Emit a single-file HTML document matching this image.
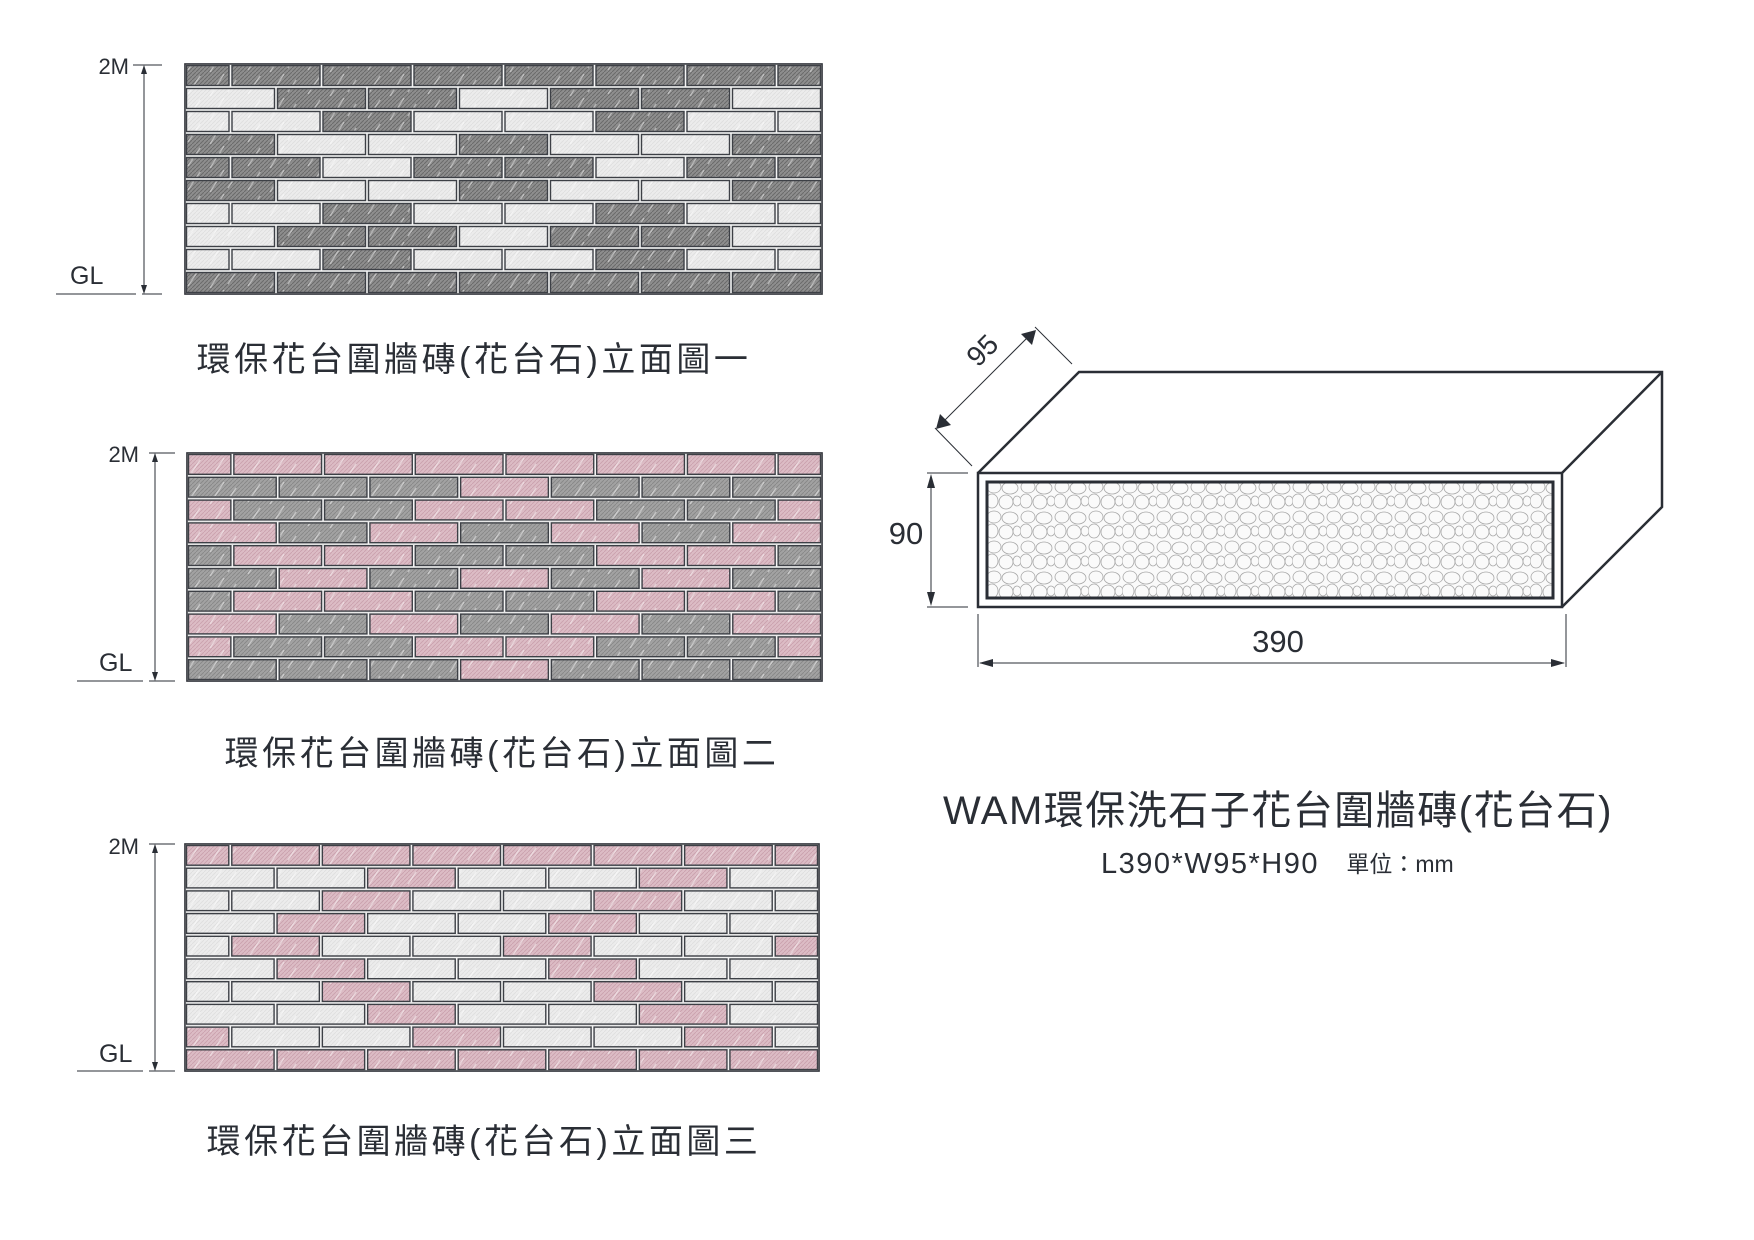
<!DOCTYPE html>
<html><head><meta charset="utf-8">
<style>
html,body{margin:0;padding:0;background:#fff;}
body{width:1754px;height:1240px;overflow:hidden;position:relative;font-family:"Liberation Sans","Noto Sans CJK TC",sans-serif;color:#2a2e35;}
svg{position:absolute;left:0;top:0;}
</style></head>
<body>
<svg id="s" width="1754" height="1240" viewBox="0 0 1754 1240" xmlns="http://www.w3.org/2000/svg">
<defs>
<pattern id="hd" width="4" height="4" patternUnits="userSpaceOnUse"><rect width="4" height="4" fill="#8e8e8e"/><path d="M0 4L4 0" stroke="#6a6a6a" stroke-width="1"/></pattern>
<pattern id="hg" width="4" height="4" patternUnits="userSpaceOnUse"><rect width="4" height="4" fill="#a2a2a2"/><path d="M0 4L4 0" stroke="#858585" stroke-width="0.8"/></pattern>
<pattern id="hp" width="4" height="4" patternUnits="userSpaceOnUse"><rect width="4" height="4" fill="#dcbcc5"/><path d="M0 4L4 0" stroke="#c9a0ac" stroke-width="0.8"/></pattern>
<pattern id="hl" width="4" height="4" patternUnits="userSpaceOnUse"><rect width="4" height="4" fill="#ececec"/><path d="M0 4L4 0" stroke="#dedede" stroke-width="0.8"/></pattern>
<pattern id="st" width="60" height="24" patternUnits="userSpaceOnUse"><path d="M8 22L20 4M30 24L44 2M48 20L56 8" stroke="#fff" stroke-opacity="0.45" stroke-width="1.5"/></pattern>
<pattern id="peb" width="34" height="30" patternUnits="userSpaceOnUse">
<rect width="34" height="30" fill="#fafafa"/>
<g fill="none" stroke="#a8a8a8" stroke-width="0.8">
<ellipse cx="8" cy="7" rx="7" ry="6"/><ellipse cx="24" cy="8" rx="8" ry="6"/>
<ellipse cx="6" cy="21" rx="6" ry="7"/><ellipse cx="20" cy="22" rx="7" ry="7"/><ellipse cx="31" cy="21" rx="4" ry="5"/>
</g></pattern>
</defs>
<g id="walls"></g>
<g stroke="#2a2e35" fill="none">
<line x1="144" y1="66" x2="144" y2="292" stroke-width="1"/>
<line x1="133" y1="65" x2="162" y2="65" stroke-width="1"/>
<line x1="56" y1="294" x2="136" y2="294" stroke-width="1"/>
<line x1="142" y1="294" x2="162" y2="294" stroke-width="1"/>
<line x1="155" y1="454" x2="155" y2="679" stroke-width="1"/>
<line x1="149" y1="453" x2="175" y2="453" stroke-width="1"/>
<line x1="77" y1="681" x2="143" y2="681" stroke-width="1"/>
<line x1="149" y1="681" x2="175" y2="681" stroke-width="1"/>
<line x1="155" y1="845" x2="155" y2="1070" stroke-width="1"/>
<line x1="149" y1="844" x2="175" y2="844" stroke-width="1"/>
<line x1="77" y1="1071" x2="143" y2="1071" stroke-width="1"/>
<line x1="149" y1="1071" x2="175" y2="1071" stroke-width="1"/>
</g>
<g fill="#2a2e35">
<path d="M144 65l-3 9h6z"/><path d="M144 294l-3 -9h6z"/>
<path d="M155 453l-3 9h6z"/><path d="M155 681l-3 -9h6z"/>
<path d="M155 844l-3 9h6z"/><path d="M155 1071l-3 -9h6z"/>
</g>
<g font-family="Liberation Sans, sans-serif" fill="#2a2e35">
<text x="129" y="74" font-size="22" text-anchor="end">2M</text>
<text x="70" y="284" font-size="25">GL</text>
<text x="139" y="462" font-size="22" text-anchor="end">2M</text>
<text x="99" y="671" font-size="25">GL</text>
<text x="139" y="854" font-size="22" text-anchor="end">2M</text>
<text x="99" y="1062" font-size="25">GL</text>
</g>
<g font-family="Liberation Sans, Noto Sans CJK TC, sans-serif" fill="#2a2e35" font-size="34" letter-spacing="3.5" text-anchor="middle">
<text x="474" y="371">環保花台圍牆磚(花台石)立面圖一</text>
<text x="502" y="765">環保花台圍牆磚(花台石)立面圖二</text>
<text x="484" y="1153">環保花台圍牆磚(花台石)立面圖三</text>
</g>
<g stroke="#2a2e35" stroke-width="2.5" fill="#fff" stroke-linejoin="miter">
<path d="M978 473L1079 372L1662 372L1662 507L1562 607"/>
<path d="M1562 473L1662 372" fill="none"/>
<rect x="978" y="473" width="584" height="134"/>
<rect x="987" y="482" width="566" height="116" fill="url(#peb)" stroke-width="3"/>
</g>
<g stroke="#2a2e35" stroke-width="1">
<line x1="935" y1="428" x2="972" y2="466"/>
<line x1="1035" y1="327" x2="1072" y2="364"/>
<line x1="938" y1="427" x2="1034" y2="331"/>
<line x1="927" y1="473" x2="968" y2="473"/>
<line x1="927" y1="607" x2="968" y2="607"/>
<line x1="931" y1="476" x2="931" y2="604"/>
<line x1="978" y1="614" x2="978" y2="667"/>
<line x1="1566" y1="614" x2="1566" y2="667"/>
<line x1="980" y1="663" x2="1564" y2="663"/>
</g>
<g fill="#2a2e35">
<path d="M936 429l4 -15l11 11z"/><path d="M1036 330l-4 15l-11 -11z"/>
<path d="M931 474l-4 14h8z"/><path d="M931 606l-4 -14h8z"/>
<path d="M979 663l14 -4v8z"/><path d="M1565 663l-14 -4v8z"/>
</g>
<g font-family="Liberation Sans, sans-serif" fill="#2a2e35">
<text x="982" y="360" font-size="28" text-anchor="middle" transform="rotate(-45 982 350)">95</text>
<text x="906" y="544" font-size="31" text-anchor="middle">90</text>
<text x="1278" y="652" font-size="31" text-anchor="middle">390</text>
<text x="1278" y="824" font-size="40" letter-spacing="1.5" text-anchor="middle" font-family="Liberation Sans, Noto Sans CJK TC, sans-serif">WAM環保洗石子花台圍牆磚(花台石)</text>
<text x="1210" y="873" font-size="29" letter-spacing="1.5" text-anchor="middle">L390*W95*H90</text>
<text x="1400" y="872" font-size="23" text-anchor="middle" font-family="Liberation Sans, Noto Sans CJK TC, sans-serif">單位：mm</text>
</g>
</svg>
<script>
(function(){
var g=document.getElementById('walls');var NS='http://www.w3.org/2000/svg';
function el(t,a){var e=document.createElementNS(NS,t);for(var k in a)e.setAttribute(k,a[k]);g.appendChild(e);return e;}
var fills={D:'url(#hd)',G:'url(#hg)',P:'url(#hp)',L:'url(#hl)'};
function wall(x0,y0,x1,y1,rows){
 el('rect',{x:x0,y:y0,width:x1-x0,height:y1-y0,fill:'#666',stroke:'#3a3d42','stroke-width':1.5});
 var W=x1-x0,H=(y1-y0)/rows.length,F=W/7;
 rows.forEach(function(r,i){
  var y=y0+i*H,xs=[];
  if(r.length==8){xs.push([x0,x0+F/2]);for(var k=0;k<6;k++)xs.push([x0+F/2+k*F,x0+F/2+(k+1)*F]);xs.push([x1-F/2,x1]);}
  else{for(var k=0;k<7;k++)xs.push([x0+k*F,x0+(k+1)*F]);}
  el('rect',{x:x0,y:y,width:W,height:H,fill:'#f4f4f4'});
  xs.forEach(function(b,j){
   var f=fills[r[j]];
   el('rect',{x:b[0]+1.5,y:y+1.5,width:b[1]-b[0]-3,height:H-3,fill:f,stroke:'#3d4046','stroke-width':1.4});
   el('rect',{x:b[0]+2.5,y:y+2.5,width:b[1]-b[0]-5,height:H-5,fill:'url(#st)'});
  });
 });
 el('rect',{x:x0,y:y0,width:x1-x0,height:y1-y0,fill:'none',stroke:'#3a3d42','stroke-width':1.5});
}
wall(185,64,822,294,['DDDDDDDD','LDDLDDL','LLDLLDLL','DLLDLLD','DDLDDLDD','DLLDLLD','LLDLLDLL','LDDLDDL','LLDLLDLL','DDDDDDD']);
wall(187,453,822,681,['PPPPPPPP','GGGPGGG','PGGPPGGP','PGPGPGP','GPPGGPPG','GPGPGPG','GPPGGPPG','PGPGPGP','PGGPPGGP','GGGPGGG']);
wall(185,844,819,1071,['PPPPPPPP','LLPLLPL','LLPLLPLL','LPLLPLL','LPLLPLLP','LPLLPLL','LLPLLPLL','LLPLLPL','PLLPLLPL','PPPPPPP']);
})();
</script>
</body></html>
